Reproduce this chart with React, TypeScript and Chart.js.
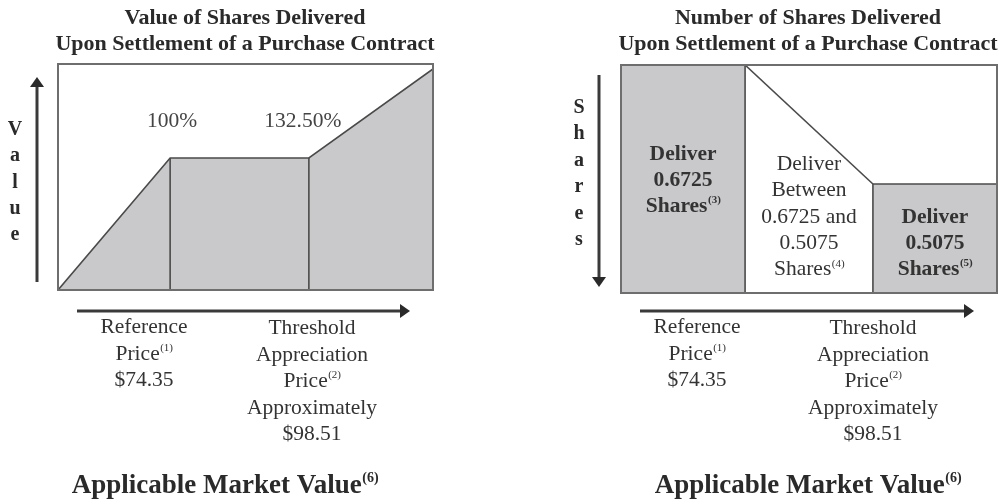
import React, { useEffect, useRef } from "react";
import { Chart, registerables } from "chart.js";
Chart.register(...registerables);

// Schematic data (x: applicable market value on a 0–10 schematic scale)
const valueBreaks = [0, 2.99, 6.69, 10];
const valueLevels = [0, 0.584, 0.584, 0.978];
const shareBreaks = [0, 3.3, 6.7, 10];
const shareLevels = [1, 1, 0.478, 0.478];

const leftTitle = ["Value of Shares Delivered", "Upon Settlement of a Purchase Contract"];
const rightTitle = ["Number of Shares Delivered", "Upon Settlement of a Purchase Contract"];
const percentLabels = ["100%", "132.50%"];
const valueAxisLabel = "Value";
const sharesAxisLabel = "Shares";

type Ln = { t: string; s?: string };
const refLines: Ln[] = [{ t: "Reference" }, { t: "Price", s: "(1)" }, { t: "$74.35" }];
const thrLines: Ln[] = [
  { t: "Threshold" },
  { t: "Appreciation" },
  { t: "Price", s: "(2)" },
  { t: "Approximately" },
  { t: "$98.51" },
];
const xAxisTitle: Ln = { t: "Applicable Market Value", s: "(6)" };
const box1Lines: Ln[] = [{ t: "Deliver" }, { t: "0.6725" }, { t: "Shares", s: "(3)" }];
const box2Lines: Ln[] = [
  { t: "Deliver" },
  { t: "Between" },
  { t: "0.6725 and" },
  { t: "0.5075" },
  { t: "Shares", s: "(4)" },
];
const box3Lines: Ln[] = [{ t: "Deliver" }, { t: "0.5075" }, { t: "Shares", s: "(5)" }];

const GRAY = "#c9c9cb";
const LINE = "#4a4a4a";
const BORDER = "#6e6e6e";
const TEXT = "#333333";
const FONT = '"Liberation Serif", "DejaVu Serif", serif';

function drawLn(ctx: CanvasRenderingContext2D, ln: Ln, cx: number, y: number, size: number, bold: boolean, color = TEXT) {
  const main = `${bold ? "bold " : ""}${size}px ${FONT}`;
  const supSize = Math.round(size * 0.52);
  const supFont = `${bold ? "bold " : ""}${supSize}px ${FONT}`;
  ctx.font = main;
  const w1 = ctx.measureText(ln.t).width;
  let w2 = 0;
  if (ln.s) {
    ctx.font = supFont;
    w2 = ctx.measureText(ln.s).width;
  }
  const x0 = cx - (w1 + w2) / 2;
  ctx.textAlign = "left";
  ctx.textBaseline = "alphabetic";
  ctx.fillStyle = color;
  ctx.font = main;
  ctx.fillText(ln.t, x0, y);
  if (ln.s) {
    ctx.font = supFont;
    ctx.fillText(ln.s, x0 + w1 + 0.5, y - size * 0.4);
  }
}

function drawLines(ctx: CanvasRenderingContext2D, lines: Ln[], cx: number, y0: number, step: number, size: number, bold: boolean) {
  lines.forEach((ln, i) => drawLn(ctx, ln, cx, y0 + i * step, size, bold));
}

function hArrow(ctx: CanvasRenderingContext2D, x1: number, x2: number, y: number) {
  ctx.save();
  ctx.strokeStyle = "#3a3a3a";
  ctx.fillStyle = "#2a2a2a";
  ctx.lineWidth = 3;
  ctx.beginPath();
  ctx.moveTo(x1, y);
  ctx.lineTo(x2 - 8, y);
  ctx.stroke();
  ctx.beginPath();
  ctx.moveTo(x2, y);
  ctx.lineTo(x2 - 10, y - 7);
  ctx.lineTo(x2 - 10, y + 7);
  ctx.closePath();
  ctx.fill();
  ctx.restore();
}

function vArrow(ctx: CanvasRenderingContext2D, x: number, yFrom: number, yTip: number) {
  const dir = yTip < yFrom ? -1 : 1;
  ctx.save();
  ctx.strokeStyle = "#3a3a3a";
  ctx.fillStyle = "#2a2a2a";
  ctx.lineWidth = 3;
  ctx.beginPath();
  ctx.moveTo(x, yFrom);
  ctx.lineTo(x, yTip - dir * 8);
  ctx.stroke();
  ctx.beginPath();
  ctx.moveTo(x, yTip);
  ctx.lineTo(x - 7, yTip - dir * 10);
  ctx.lineTo(x + 7, yTip - dir * 10);
  ctx.closePath();
  ctx.fill();
  ctx.restore();
}

function baseOptions(padding: any) {
  return {
    responsive: false,
    animation: false as const,
    events: [] as any[],
    layout: { padding },
    plugins: {
      legend: { display: false },
      tooltip: { enabled: false },
      title: { display: false },
      filler: { drawTime: "beforeDatasetsDraw" },
    },
    scales: {
      x: { type: "linear" as const, min: 0, max: 10, display: false },
      y: { type: "linear" as const, min: 0, max: 1, display: false },
    },
    elements: { point: { radius: 0 }, line: { tension: 0 } },
  };
}

function vline(x: number, y: number) {
  return {
    data: [
      { x, y: 0 },
      { x, y },
    ],
    borderColor: LINE,
    borderWidth: 1.6,
    fill: false,
    pointRadius: 0,
    order: 0,
  };
}

function LeftPanel() {
  const ref = useRef<HTMLCanvasElement>(null);
  useEffect(() => {
    const plugin = {
      id: "leftDecor",
      afterDraw(chart: any) {
        const ctx: CanvasRenderingContext2D = chart.ctx;
        const a = chart.chartArea;
        ctx.save();
        ctx.strokeStyle = BORDER;
        ctx.lineWidth = 2;
        ctx.strokeRect(a.left, a.top, a.right - a.left, a.bottom - a.top);
        const cx = 245;
        drawLn(ctx, { t: leftTitle[0] }, cx, 24, 22, true, "#2a2a2a");
        drawLn(ctx, { t: leftTitle[1] }, cx, 50, 22, true, "#2a2a2a");
        const xs = chart.scales.x;
        drawLn(ctx, { t: percentLabels[0] }, xs.getPixelForValue(valueBreaks[1]) + 2, 127, 21.5, false, "#444");
        drawLn(ctx, { t: percentLabels[1] }, xs.getPixelForValue(valueBreaks[2]) - 6, 127, 21.5, false, "#444");
        valueAxisLabel.split("").forEach((c, i) => drawLn(ctx, { t: c }, 15, 135 + i * 26.3, 20, true, "#2a2a2a"));
        vArrow(ctx, 37, 282, 77);
        hArrow(ctx, 77, 410, 311);
        drawLines(ctx, refLines, 144, 333, 26.5, 21.5, false);
        drawLines(ctx, thrLines, 312, 334, 26.5, 21.5, false);
        drawLn(ctx, xAxisTitle, 225, 493, 27, true, "#2a2a2a");
        ctx.restore();
      },
    };
    const chart = new Chart(ref.current!, {
      type: "line",
      data: {
        datasets: [
          {
            data: valueBreaks.map((x, i) => ({ x, y: valueLevels[i] })),
            borderColor: LINE,
            borderWidth: 1.6,
            backgroundColor: GRAY,
            fill: "origin",
            pointRadius: 0,
            order: 1,
          },
          vline(valueBreaks[1], valueLevels[1]),
          vline(valueBreaks[2], valueLevels[2]),
        ],
      },
      options: baseOptions({ left: 58, top: 64, right: 67, bottom: 213 }) as any,
      plugins: [plugin],
    });
    return () => chart.destroy();
  }, []);
  return <canvas ref={ref} width={500} height={503} style={{ position: "absolute", left: 0, top: 0 }} />;
}

function RightPanel() {
  const ref = useRef<HTMLCanvasElement>(null);
  useEffect(() => {
    const plugin = {
      id: "rightDecor",
      afterDraw(chart: any) {
        const ctx: CanvasRenderingContext2D = chart.ctx;
        const a = chart.chartArea;
        ctx.save();
        ctx.strokeStyle = BORDER;
        ctx.lineWidth = 2;
        ctx.strokeRect(a.left, a.top, a.right - a.left, a.bottom - a.top);
        const cx = 308;
        drawLn(ctx, { t: rightTitle[0] }, cx, 24, 22, true, "#2a2a2a");
        drawLn(ctx, { t: rightTitle[1] }, cx, 50, 22, true, "#2a2a2a");
        sharesAxisLabel.split("").forEach((c, i) => drawLn(ctx, { t: c }, 79, 113 + i * 26.4, 20, true, "#2a2a2a"));
        vArrow(ctx, 99, 75, 287);
        const xs = chart.scales.x;
        const b1 = (xs.getPixelForValue(shareBreaks[0]) + xs.getPixelForValue(shareBreaks[1])) / 2;
        const b2 = (xs.getPixelForValue(shareBreaks[1]) + xs.getPixelForValue(shareBreaks[2])) / 2;
        const b3 = (xs.getPixelForValue(shareBreaks[2]) + xs.getPixelForValue(shareBreaks[3])) / 2;
        drawLines(ctx, box1Lines, b1, 160, 26, 21.5, true);
        drawLines(ctx, box2Lines, b2, 170, 26.3, 21.5, false);
        drawLines(ctx, box3Lines, b3, 223, 26, 21.5, true);
        hArrow(ctx, 140, 474, 311);
        drawLines(ctx, refLines, 197, 333, 26.5, 21.5, false);
        drawLines(ctx, thrLines, 373, 334, 26.5, 21.5, false);
        drawLn(ctx, xAxisTitle, 308, 493, 27, true, "#2a2a2a");
        ctx.restore();
      },
    };
    const chart = new Chart(ref.current!, {
      type: "line",
      data: {
        datasets: [
          {
            data: [
              { x: shareBreaks[0], y: shareLevels[0] },
              { x: shareBreaks[1], y: shareLevels[1] },
            ],
            borderColor: "rgba(0,0,0,0)",
            borderWidth: 0,
            backgroundColor: GRAY,
            fill: "origin",
            pointRadius: 0,
            order: 1,
          },
          {
            data: [
              { x: shareBreaks[1], y: shareLevels[1] },
              { x: shareBreaks[2], y: shareLevels[2] },
            ],
            borderColor: LINE,
            borderWidth: 1.6,
            backgroundColor: "#ffffff",
            fill: "origin",
            pointRadius: 0,
            order: 1,
          },
          {
            data: [
              { x: shareBreaks[2], y: shareLevels[2] },
              { x: shareBreaks[3], y: shareLevels[3] },
            ],
            borderColor: LINE,
            borderWidth: 1.6,
            backgroundColor: GRAY,
            fill: "origin",
            pointRadius: 0,
            order: 1,
          },
          vline(shareBreaks[1], shareLevels[1]),
          vline(shareBreaks[2], shareLevels[2]),
        ],
      },
      options: baseOptions({ left: 121, top: 65, right: 5, bottom: 210 }) as any,
      plugins: [plugin],
    });
    return () => chart.destroy();
  }, []);
  return <canvas ref={ref} width={502} height={503} style={{ position: "absolute", left: 500, top: 0 }} />;
}

export default function App() {
  return (
    <div style={{ position: "absolute", left: 0, top: 0, width: 1002, height: 503, background: "#fff" }}>
      <LeftPanel />
      <RightPanel />
    </div>
  );
}
